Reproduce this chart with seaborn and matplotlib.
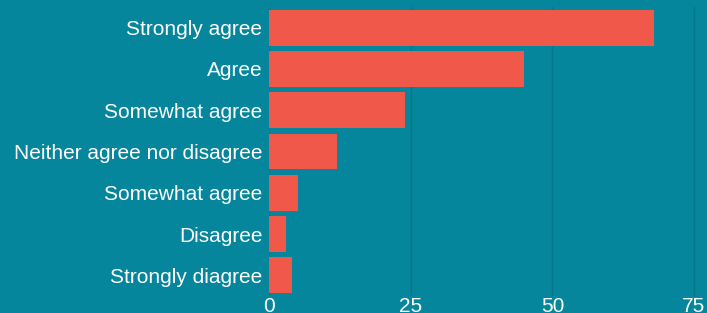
import numpy as np
import pandas as pd
import matplotlib
matplotlib.use("Agg")
import matplotlib.pyplot as plt
import seaborn as sns

categories = ["Strongly agree", "Agree", "Somewhat agree", "Neither agree nor disagree",
              "Somewhat agree", "Disagree", "Strongly diagree"]
values = [68, 45, 24, 12, 5, 3, 4]
xticks = [0, 25, 50, 75]

bg = "#05869c"
bar_color = "#f0594a"
grid_color = "#06768a"

# two rows share the same label, so plot on row positions and relabel
df = pd.DataFrame({"row": range(len(categories)), "count": values})

sns.set_theme(style="white")
plt.rcParams["font.family"] = ["Liberation Sans", "DejaVu Sans"]

fig = plt.figure(figsize=(7.07, 3.13), dpi=100, facecolor=bg)
ax = fig.add_axes([0.381, 0.054, 0.619, 0.924])
ax.set_facecolor(bg)

sns.barplot(data=df, x="count", y="row", orient="h", color=bar_color,
            saturation=1, width=0.87, linewidth=0, ax=ax, zorder=3)

ax.set_xlim(0, 77.3)
ax.set_ylim(6.5, -0.5)
ax.set_yticks(range(len(categories)))
ax.set_yticklabels(categories)
ax.set_xticks(xticks)
for t in xticks:
    ax.axvline(t, color=grid_color, lw=1, zorder=1)
ax.set_xlabel("")
ax.set_ylabel("")
for s in ax.spines.values():
    s.set_visible(False)
ax.tick_params(axis="both", length=0, colors="white", labelsize=15)
ax.tick_params(axis="y", pad=5)
ax.tick_params(axis="x", pad=1)

fig.savefig("out.png", dpi=100, facecolor=bg)
